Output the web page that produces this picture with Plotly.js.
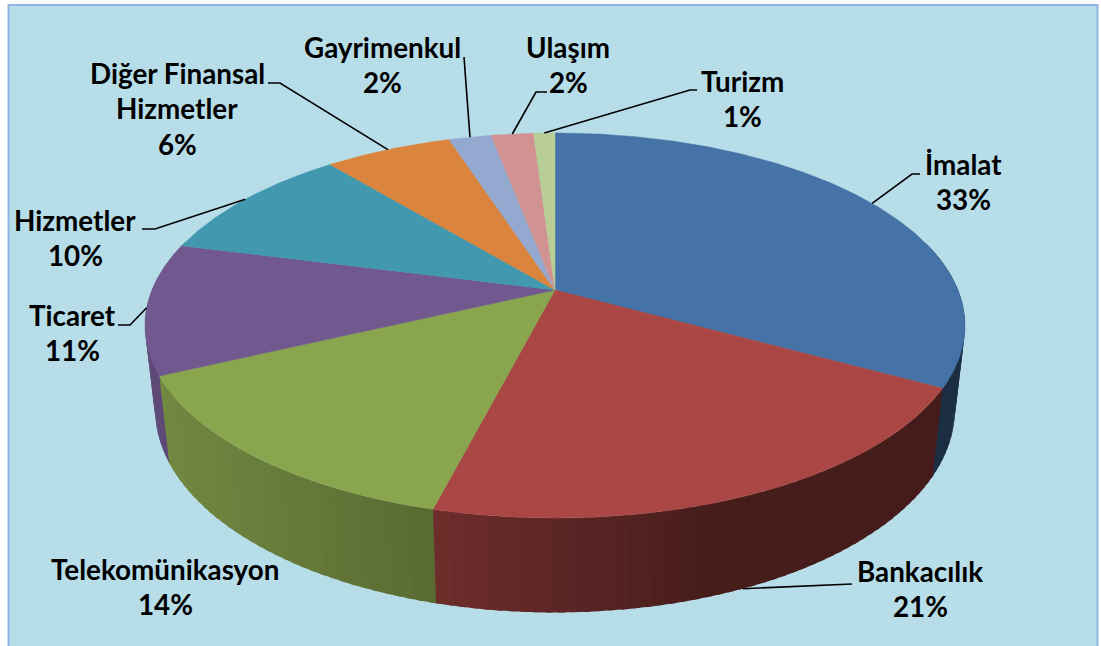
<!DOCTYPE html>
<html>
<head>
<meta charset="utf-8">
<script src="https://cdn.plot.ly/plotly-3.0.1.min.js"></script>
<style>html,body{margin:0;padding:0;background:#fff}#chart{width:1101px;height:646px}</style>
</head>
<body>
<div id="chart"></div>
<script>
const categories = ["İmalat","Bankacılık","Telekomünikasyon","Ticaret","Hizmetler","Diğer Finansal|Hizmetler","Gayrimenkul","Ulaşım","Turizm"];
const values = [33,21,14,11,10,6,2,2,1];
const colors = ["#4572A7","#AA4643","#89A54E","#71588F","#4198AF","#DB843D","#93A9CF","#D19392","#B9CD96"];

// Label centre x / first line centre y / leader elbows for each category
const labelX = [963,920,165.5,72,75,177,382,568,742];
const labelY = [164,571,569,315,220,73,47,47,81];
const lineGap = 35.5;
const leaderElbows = [
  [[912,174],[920,174]],
  [[838,585],[852,584]],
  null,
  [[130,325],[118,325]],
  [[155,229],[142,229]],
  [[280,83],[268,83]],
  [[464,57]],
  [[536,92],[547,92]],
  [[690,90],[697,90]]
];

// Perspective projection of the pie disc
const cx=555, cy=290, a=403, b=186, p=0.1844, depth=87, shrink=0.975;
function topPt(t){
  const r=t*Math.PI/180, u=Math.sin(r), v=Math.cos(r), d=1+p*v;
  return [cx+a*u/d, cy-b*v/d];
}
function botPt(t){
  const q=topPt(t);
  return [cx+shrink*(q[0]-cx), q[1]+depth+(q[1]-376)*0.052];
}
function shade(hex,f){
  const n=parseInt(hex.slice(1),16);
  const c=[n>>16,(n>>8)&255,n&255].map(x=>Math.round(x*f));
  return `rgb(${c[0]},${c[1]},${c[2]})`;
}
function sideFactor(x){
  const pts=[[140,0.84],[437,0.64],[700,0.42],[1000,0.40]];
  for(let i=1;i<pts.length;i++){
    if(x<=pts[i][0]){
      const k=(x-pts[i-1][0])/(pts[i][0]-pts[i-1][0]);
      return pts[i-1][1]+k*(pts[i][1]-pts[i-1][1]);
    }
  }
  return 0.40;
}

const total=values.reduce((s,v)=>s+v,0);
const starts=[]; let acc=0;
values.forEach(v=>{starts.push(acc/total*360); acc+=v;});
const ends=values.map((v,i)=>starts[i]+v/total*360);

const traces=[];
function poly(xs,ys,color,lw){
  traces.push({type:"scatter",mode:"lines",x:xs,y:ys,fill:"toself",fillcolor:color,
    line:{color:color,width:lw},hoverinfo:"skip",showlegend:false});
}

// Side wall bands, front half only; each band overlaps the next to hide seams
values.forEach((v,i)=>{
  const from=Math.max(starts[i],75), to=Math.min(ends[i],285);
  if(to<=from) return;
  const step=1.5;
  for(let t=from;t<to-1e-6;t+=step){
    const t2=Math.min(t+step,to)+0.8;
    const arcA=[topPt(t),topPt((t+t2)/2),topPt(t2)];
    const arcB=[botPt(t2),botPt((t+t2)/2),botPt(t)];
    const pts=arcA.concat(arcB);
    const mid=arcA[1][0];
    poly(pts.map(q=>q[0]).concat(pts[0][0]),pts.map(q=>q[1]).concat(pts[0][1]),shade(colors[i],sideFactor(mid)),0);
  }
});

// Top faces
values.forEach((v,i)=>{
  const xs=[cx], ys=[cy];
  for(let t=starts[i];t<ends[i];t+=0.5){const q=topPt(t);xs.push(q[0]);ys.push(q[1]);}
  const e=topPt(ends[i]);xs.push(e[0],cx);ys.push(e[1],cy);
  poly(xs,ys,colors[i],0.5);
});

// Leader lines from slice mid-angle to label
leaderElbows.forEach((el,i)=>{
  if(!el) return;
  const m=(starts[i]+ends[i])/2;
  const s=(m>100&&m<260)?botPt(m):topPt(m);
  const pts=[s].concat(el);
  traces.push({type:"scatter",mode:"lines",x:pts.map(q=>q[0]),y:pts.map(q=>q[1]),
    line:{color:"#000",width:1.6},hoverinfo:"skip",showlegend:false});
});

const annotations=[];
categories.forEach((c,i)=>{
  const lines=c.split("|").concat(values[i]+"%");
  lines.forEach((t,j)=>{
    annotations.push({x:labelX[i],y:labelY[i]+j*lineGap,xref:"x",yref:"y",text:t,showarrow:false,
      xanchor:"center",yanchor:"middle",font:{family:"Lato, Carlito, sans-serif",size:27.8,color:"#000",weight:700}});
  });
});

const layout={
  width:1101,height:646,margin:{l:0,r:0,t:0,b:0},paper_bgcolor:"#fff",plot_bgcolor:"#fff",showlegend:false,
  xaxis:{range:[0,1101],visible:false,fixedrange:true},
  yaxis:{range:[646,0],visible:false,fixedrange:true},
  shapes:[{type:"rect",layer:"below",xref:"x",yref:"y",x0:8.5,y0:5,x1:1097.5,y1:670,
    fillcolor:"#B7DDE8",line:{color:"#8FB4E3",width:2}}],
  annotations
};
Plotly.newPlot("chart",traces,layout,{displayModeBar:false,staticPlot:true});
</script>
</body>
</html>
